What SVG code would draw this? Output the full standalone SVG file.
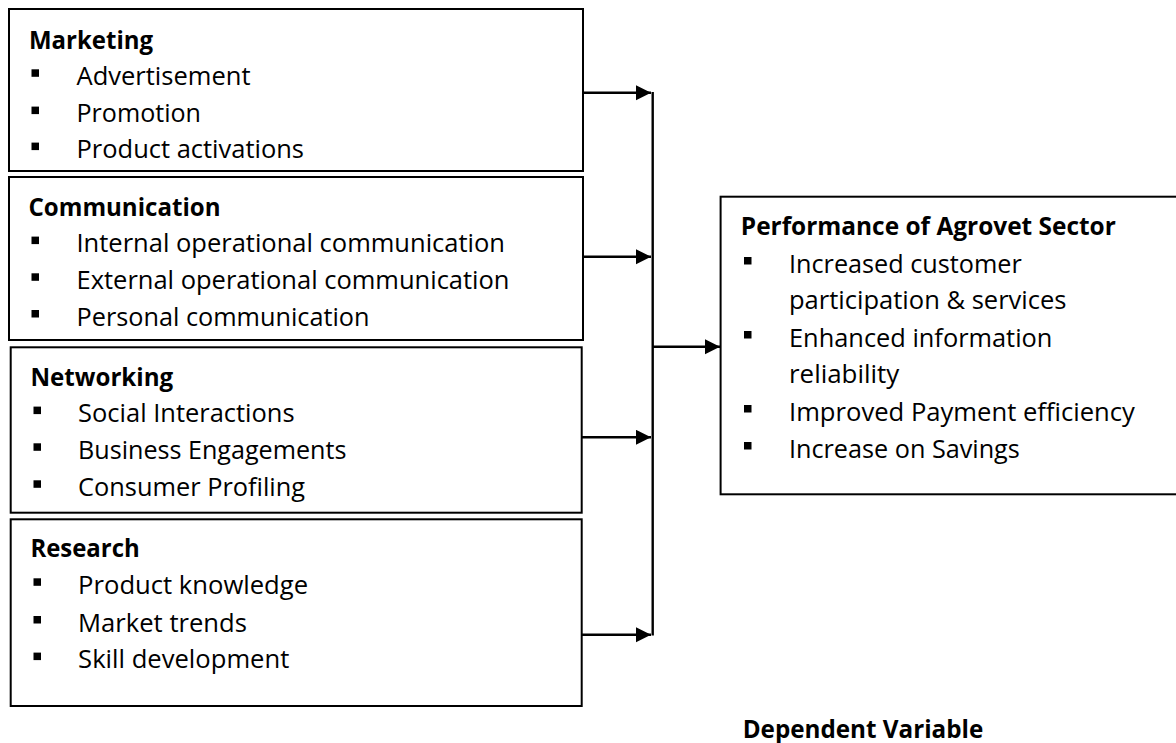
<svg xmlns="http://www.w3.org/2000/svg" width="1176" height="743" viewBox="0 0 1176 743">
<defs>
<style>
.box{fill:#fff;stroke:#000;stroke-width:2}
.t{font-family:"Open Sans","Lato","Liberation Sans",sans-serif;font-size:25.5px;fill:#000}
.h{font-weight:bold}
.b{fill:#000}
.c{stroke:#000;stroke-width:2.4;fill:none}
</style>
<marker id="ah" markerUnits="userSpaceOnUse" markerWidth="16" markerHeight="16" refX="15" refY="7.5" orient="auto">
<path d="M0,0 L15,7.5 L0,15 Z" fill="#000"/>
</marker>
</defs>
<rect width="1176" height="743" fill="#fff"/>

<g id="marketing">
<rect class="box" x="9" y="9" width="574" height="162"/>
<text class="t h" x="29" y="49" textLength="124" lengthAdjust="spacingAndGlyphs">Marketing</text>
<rect class="b" x="31.5" y="69.3" width="7.5" height="7.5"/>
<text class="t" x="76.5" y="85" textLength="174" lengthAdjust="spacingAndGlyphs">Advertisement</text>
<rect class="b" x="31.5" y="106.6" width="7.5" height="7.5"/>
<text class="t" x="76.5" y="122.3" textLength="124.5" lengthAdjust="spacingAndGlyphs">Promotion</text>
<rect class="b" x="31.5" y="142.6" width="7.5" height="7.5"/>
<text class="t" x="76.5" y="158.3" textLength="227.5" lengthAdjust="spacingAndGlyphs">Product activations</text>
</g>

<g id="communication">
<rect class="box" x="9" y="177" width="574" height="163"/>
<text class="t h" x="28.5" y="215.7" textLength="192" lengthAdjust="spacingAndGlyphs">Communication</text>
<rect class="b" x="31.5" y="236.6" width="7.5" height="7.5"/>
<text class="t" x="76.5" y="252.3" textLength="428.5" lengthAdjust="spacingAndGlyphs">Internal operational communication</text>
<rect class="b" x="31.5" y="273.3" width="7.5" height="7.5"/>
<text class="t" x="76.5" y="289" textLength="433" lengthAdjust="spacingAndGlyphs">External operational communication</text>
<rect class="b" x="31.5" y="310" width="7.5" height="7.5"/>
<text class="t" x="76.5" y="325.7" textLength="293" lengthAdjust="spacingAndGlyphs">Personal communication</text>
</g>

<g id="networking">
<rect class="box" x="10.7" y="347.3" width="571" height="165.4"/>
<text class="t h" x="30.4" y="385.7" textLength="142.8" lengthAdjust="spacingAndGlyphs">Networking</text>
<rect class="b" x="33.5" y="406.6" width="7.5" height="7.5"/>
<text class="t" x="78.1" y="422.3" textLength="216.5" lengthAdjust="spacingAndGlyphs">Social Interactions</text>
<rect class="b" x="33.5" y="443.3" width="7.5" height="7.5"/>
<text class="t" x="78.1" y="459" textLength="268.3" lengthAdjust="spacingAndGlyphs">Business Engagements</text>
<rect class="b" x="33.5" y="480.3" width="7.5" height="7.5"/>
<text class="t" x="78.1" y="496" textLength="227" lengthAdjust="spacingAndGlyphs">Consumer Profiling</text>
</g>

<g id="research">
<rect class="box" x="10.7" y="519.3" width="571" height="186.7"/>
<text class="t h" x="30.4" y="557.3" textLength="109.3" lengthAdjust="spacingAndGlyphs">Research</text>
<rect class="b" x="33.5" y="578.3" width="7.5" height="7.5"/>
<text class="t" x="78.1" y="594" textLength="230" lengthAdjust="spacingAndGlyphs">Product knowledge</text>
<rect class="b" x="33.5" y="616" width="7.5" height="7.5"/>
<text class="t" x="78.1" y="631.7" textLength="168.8" lengthAdjust="spacingAndGlyphs">Market trends</text>
<rect class="b" x="33.5" y="652.6" width="7.5" height="7.5"/>
<text class="t" x="78.1" y="668.3" textLength="211.2" lengthAdjust="spacingAndGlyphs">Skill development</text>
</g>

<g id="performance">
<rect class="box" x="720.6" y="196.7" width="470" height="297.6"/>
<text class="t h" x="740.8" y="235" textLength="375" lengthAdjust="spacingAndGlyphs">Performance of Agrovet Sector</text>
<rect class="b" x="744" y="257" width="7.5" height="7.5"/>
<text class="t" x="789" y="272.7" textLength="232.7" lengthAdjust="spacingAndGlyphs">Increased customer</text>
<text class="t" x="789" y="309.3" textLength="277.5" lengthAdjust="spacingAndGlyphs">participation &amp; services</text>
<rect class="b" x="744" y="331" width="7.5" height="7.5"/>
<text class="t" x="789" y="346.7" textLength="263.4" lengthAdjust="spacingAndGlyphs">Enhanced information</text>
<text class="t" x="789" y="383.3" textLength="110.3" lengthAdjust="spacingAndGlyphs">reliability</text>
<rect class="b" x="744" y="405" width="7.5" height="7.5"/>
<text class="t" x="789" y="420.7" textLength="345.9" lengthAdjust="spacingAndGlyphs">Improved Payment efficiency</text>
<rect class="b" x="744" y="442" width="7.5" height="7.5"/>
<text class="t" x="789" y="457.7" textLength="230.8" lengthAdjust="spacingAndGlyphs">Increase on Savings</text>
</g>

<g id="dependent-label">
<text class="t h" x="742.7" y="738" textLength="240.6" lengthAdjust="spacingAndGlyphs">Dependent Variable</text>
</g>

<g id="connectors">
<line class="c" x1="583" y1="92.7" x2="651" y2="92.7" marker-end="url(#ah)"/>
<line class="c" x1="583" y1="256.7" x2="651" y2="256.7" marker-end="url(#ah)"/>
<line class="c" x1="582" y1="437.3" x2="651" y2="437.3" marker-end="url(#ah)"/>
<line class="c" x1="582" y1="634.7" x2="651" y2="634.7" marker-end="url(#ah)"/>
<line class="c" x1="652.7" y1="92" x2="652.7" y2="635.5"/>
<line class="c" x1="652.7" y1="346.7" x2="720" y2="346.7" marker-end="url(#ah)"/>
</g>
</svg>
